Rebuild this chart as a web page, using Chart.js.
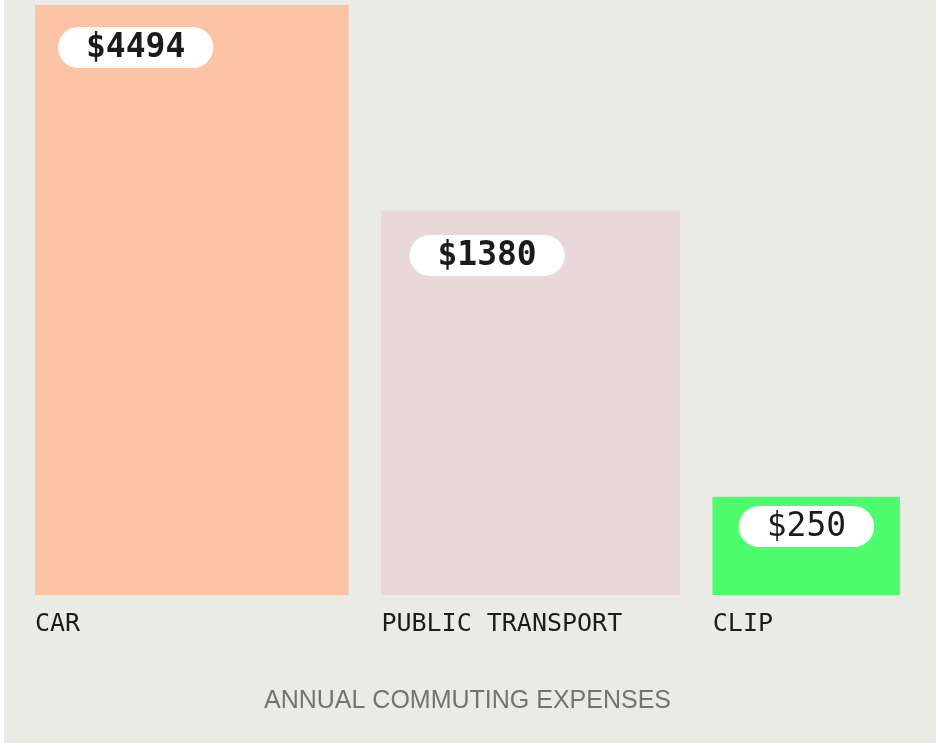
<!DOCTYPE html>
<html>
<head>
<meta charset="utf-8">
<script src="https://cdn.jsdelivr.net/npm/chart.js@4.4.0/dist/chart.umd.min.js"></script>
<style>
  html, body { margin: 0; padding: 0; background: #fff; }
  #panel { position: absolute; left: 4px; top: 0; width: 932px; height: 743px; background: #ebebe6; }
</style>
</head>
<body>
<div id="panel"><canvas id="chart" width="932" height="743"></canvas></div>
<script>
const categories = ['CAR', 'PUBLIC TRANSPORT', 'CLIP'];
const amounts = [4494, 1380, 250];
// the bars in the picture are not to scale, so their heights are read separately (% of the tallest)
const barLevels = [100, 65.1, 16.6];
const barColors = ['#fdc3a5', '#e8d8d8', '#4dfd6e'];

// column widths and the gap between columns, as drawn (layout, not data)
const columnShare = [313, 298, 187];
const columnGap = 33;
const columnStart = [];
columnShare.reduce((pos, w, i) => { columnStart[i] = pos; return pos + w + columnGap; }, 0);
const columnTotal = columnStart[columnStart.length - 1] + columnShare[columnShare.length - 1];

// where the white value pill sits on each bar
const pillStyles = [
  { dx: 23, dy: 22, bold: true },
  { dx: 28, dy: 24, bold: true },
  { center: true, dy: 9, bold: false }
];

const pillLabels = {
  id: 'pillLabels',
  afterDatasetsDraw(chart, args, opts) {
    const ctx = chart.ctx;
    chart.data.datasets.forEach(function(ds, i) {
      const bar = chart.getDatasetMeta(i).data[0];
      const p = bar.getProps(['x', 'y', 'width'], true);
      const st = opts.styles[i];
      const text = '$' + amounts[i];
      ctx.save();
      ctx.font = (st.bold ? 'bold ' : '') + opts.fontSize + 'px "DejaVu Sans Mono"';
      const w = ctx.measureText(text).width + opts.padX * 2;
      const h = opts.height;
      const left = st.center ? p.x - w / 2 : p.x - p.width / 2 + st.dx;
      const top = p.y + st.dy;
      ctx.beginPath();
      ctx.roundRect(left, top, w, h, h / 2);
      ctx.fillStyle = '#ffffff';
      ctx.fill();
      ctx.fillStyle = '#1b1b1b';
      ctx.textAlign = 'center';
      ctx.textBaseline = 'middle';
      ctx.fillText(text, left + w / 2, top + h / 2 + 1);
      ctx.restore();
    });
  }
};

const datasets = categories.map(function(name, i) {
  return {
    label: name,
    data: [{ x: columnStart[i] + columnShare[i] / 2, y: barLevels[i] }],
    backgroundColor: barColors[i],
    borderWidth: 0,
    grouped: false,
    barThickness: function(c) {
      const s = c.chart.scales.x;
      return s.getPixelForValue(columnShare[i]) - s.getPixelForValue(0);
    }
  };
});

new Chart(document.getElementById('chart'), {
  type: 'bar',
  data: { datasets: datasets },
  options: {
    responsive: false,
    animation: false,
    layout: { padding: { left: 31, right: 36, top: 5, bottom: 27 } },
    plugins: {
      legend: { display: false },
      tooltip: { enabled: false },
      pillLabels: { styles: pillStyles, fontSize: 33, padX: 28, height: 41 }
    },
    scales: {
      x: {
        type: 'linear',
        offset: false,
        min: 0,
        max: columnTotal,
        grid: { display: false, drawTicks: false, offset: false },
        border: { display: false },
        afterBuildTicks: function(scale) {
          scale.ticks = columnStart.map(v => ({ value: v }));
        },
        ticks: {
          align: 'start',
          padding: 14,
          autoSkip: false,
          maxRotation: 0,
          color: '#1c1c1c',
          font: { family: 'DejaVu Sans Mono', size: 25 },
          callback: (v, i) => categories[i]
        },
        title: {
          display: true,
          text: 'ANNUAL COMMUTING EXPENSES',
          color: '#737370',
          font: { family: 'Liberation Sans', size: 25 },
          padding: { top: 33, bottom: 0 }
        }
      },
      y: { display: false, min: 0, max: 100 }
    }
  },
  plugins: [pillLabels]
});
</script>
</body>
</html>
